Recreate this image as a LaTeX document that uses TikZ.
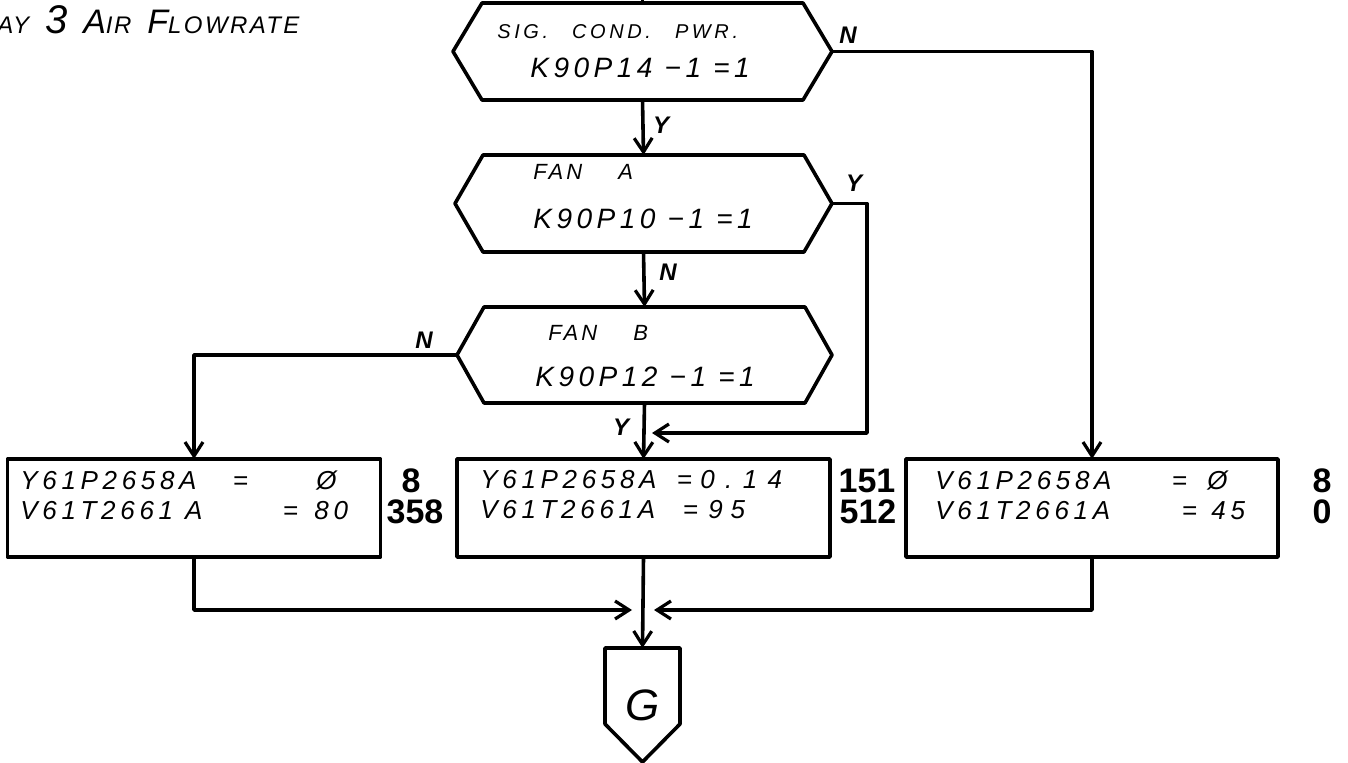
\documentclass[tikz,border=0pt]{standalone}
\usepackage{fontspec}
\setmainfont{Liberation Sans}
\usetikzlibrary{arrows.meta,calc}
\newcommand\hexoutline[2]{%
  \draw[ln] ($(#1.north west)+(#2,0)$) -- ($(#1.north east)+(-#2,0)$) -- (#1.east)
   -- ($(#1.south east)+(-#2,0)$) -- ($(#1.south west)+(#2,0)$) -- (#1.west) -- cycle;}
\tikzset{
 ln/.style={line width=1.8pt, line join=round},
 arr/.style={ln, -{Straight Barb[length=7pt,width=9pt,line width=1.6pt]}},
 hexframe/.style={inner sep=0pt, outer sep=0pt, minimum height=48.5pt},
 dsmall/.style={anchor=west, inner sep=0pt, font=\itshape\fontsize{10}{11}\selectfont\addfontfeature{LetterSpace=18}},
 dfan/.style={anchor=west, inner sep=0pt, font=\itshape\fontsize{11}{12}\selectfont\addfontfeature{LetterSpace=15}},
 dbig/.style={anchor=west, inner sep=0pt, font=\itshape\fontsize{14}{16}\selectfont\addfontfeature{LetterSpace=16}},
 lab/.style={inner sep=0pt, font=\bfseries\itshape\fontsize{12}{12}\selectfont},
 procbox/.style={draw, ln, inner sep=0pt, outer sep=0pt, minimum height=49pt},
 boxtext/.style={anchor=west, inner sep=0pt, align=left, font=\itshape\fontsize{13}{15}\selectfont\addfontfeature{LetterSpace=18}},
 num/.style={inner sep=0pt, font=\bfseries\fontsize{17}{17}\selectfont},
}
\begin{document}
\begin{tikzpicture}[x=0.5pt,y=-0.5pt]
\useasboundingbox (0,0) rectangle (1348,763);

% title
\node[anchor=base west, inner sep=0pt] (title) at (-3,34)
 {\itshape\fontsize{12}{12}\selectfont\addfontfeature{LetterSpace=6}AY\hspace{8pt}{\fontsize{20}{20}\selectfont 3}\hspace{8pt}{\fontsize{17}{17}\selectfont A}IR\hspace{8pt}{\fontsize{17}{17}\selectfont F}\addfontfeature{LetterSpace=10}LOWRATE};

% decisions
\node[hexframe, minimum width=189.5pt] (d1) at (642.5,51.5) {};
\hexoutline{d1}{29}
\node[dsmall] (d1a) at (497,32) {SIG.\hspace{12pt}COND.\hspace{12pt}PWR.};
\node[dbig] (d1b) at (530,68) {K90P14 −1 =1};

\node[hexframe, minimum width=188.5pt] (d2) at (643.5,203.5) {};
\hexoutline{d2}{28}
\node[dfan] (d2a) at (533,172) {FAN\hspace{18pt}A};
\node[dbig] (d2b) at (533,219) {K90P10 −1 =1};

\node[hexframe, minimum width=187.5pt, minimum height=48pt] (d3) at (644.5,355) {};
\hexoutline{d3}{27}
\node[dfan] (d3a) at (548,333) {FAN\hspace{18pt}B};
\node[dbig] (d3b) at (535,377) {K90P12 −1 =1};

% process boxes
\node[procbox, minimum width=186.5pt] (bL) at (194,508) {};
\node[boxtext] (bLt) at (20,495) {\makebox[102pt][l]{Y61P2658A}\makebox[16pt]{=}\hspace{30pt}Ø\\\makebox[127pt][l]{V61T2661 A}\makebox[16pt]{=}\hspace{4pt}80};
\node[procbox, minimum width=186.5pt] (bM) at (643.5,508) {};
\node[boxtext] (bMt) at (480,495) {\makebox[96pt][l]{Y61P2658A}\makebox[12pt]{=}\hspace{2pt}{\addfontfeature{LetterSpace=40}0.14}\\\makebox[99pt][l]{V61T2661A}\makebox[12pt]{=}\hspace{3pt}{\addfontfeature{LetterSpace=30}95}};
\node[procbox, minimum width=186pt] (bR) at (1092,508) {};
\node[boxtext] (bRt) at (935,495) {\makebox[116pt][l]{V61P2658A}\makebox[12pt]{=}\hspace{8pt}Ø\\\makebox[121pt][l]{V61T2661A}\makebox[12pt]{=}\hspace{5pt}45};

% numbers
\node[num] (nL1) at (411,481) {8};
\node[num] (nL2) at (415,512) {358};
\node[num] (nM1) at (867,481) {151};
\node[num] (nM2) at (868,512) {512};
\node[num] (nR1) at (1322,481) {8};
\node[num] (nR2) at (1322,512) {0};

% off-page connector
\node[inner sep=0pt, outer sep=0pt, minimum width=37.5pt, minimum height=38pt] (gbox) at (642.5,686) {};
\coordinate (gpt) at (642.5,762);
\draw[ln] (gbox.north west) -- (gbox.north east) -- (gbox.south east) -- (gpt) -- (gbox.south west) -- cycle;
\node[inner sep=0pt, font=\itshape\fontsize{22}{22}\selectfont] (gl) at (642.5,705) {G};

% connectors
\coordinate (top) at (642.5,0);
\draw[ln] (top) -- (d1.north);
\draw[arr] (d1.south) -- (d2.north);
\node[lab] (l1) at (661,125) {Y};
\draw[arr] (d1.east) -| (bR.north);
\node[lab] (l2) at (848,35) {N};
\draw[arr] (d2.south) -- (d3.north);
\node[lab] (l3) at (668,272) {N};
\coordinate (yb1) at (867,203.5);
\coordinate (yb2) at (867,433);
\coordinate (yend) at (652,433);
\draw[arr] (d2.east) -- (yb1) -- (yb2) -- (yend);
\node[lab] (l4) at (854,183) {Y};
\draw[arr] (d3.west) -| (bL.north);
\node[lab] (l5) at (424,340) {N};
\draw[arr] (d3.south) -- (bM.north);
\node[lab] (l6) at (621,427) {Y};

\coordinate (mL) at (194,610);
\coordinate (mLe) at (632,610);
\coordinate (mR) at (1092,610);
\coordinate (mRe) at (654,610);
\draw[arr] (bL.south) -- (mL) -- (mLe);
\draw[arr] (bR.south) -- (mR) -- (mRe);
\draw[arr] (bM.south) -- (gbox.north);
\end{tikzpicture}
\end{document}
